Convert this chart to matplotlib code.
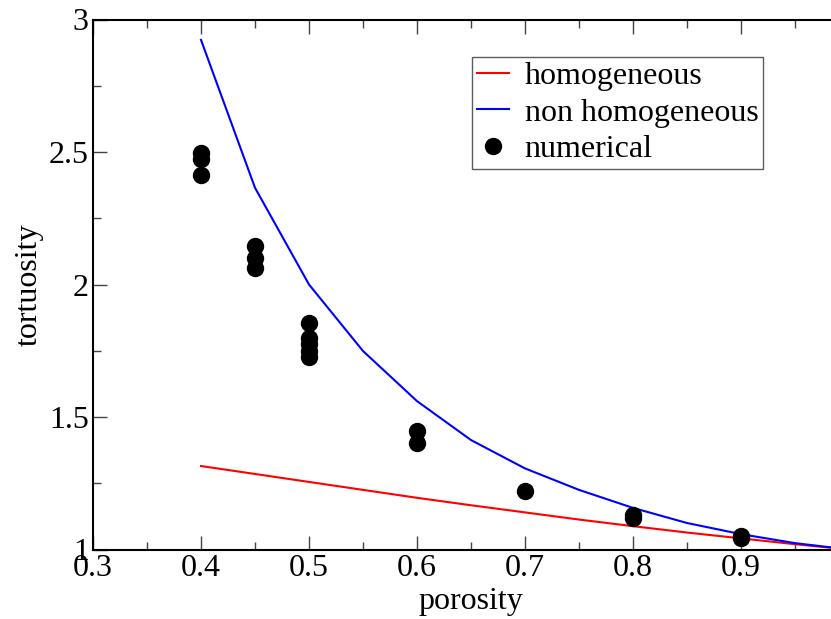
import matplotlib
matplotlib.use("Agg")
import matplotlib.pyplot as plt
from matplotlib.ticker import MultipleLocator

plt.rcParams['font.family'] = ['Liberation Serif', 'DejaVu Serif']

# model curves
phi_curve = [0.40, 0.45, 0.50, 0.55, 0.60, 0.65, 0.70, 0.75, 0.80, 0.85, 0.90, 0.95, 1.00]
tau_homog = [1.315, 1.285, 1.255, 1.225, 1.195, 1.167, 1.140, 1.113, 1.088, 1.064, 1.042, 1.020, 1.000]
tau_nonhomog = [2.923, 2.365, 2.000, 1.749, 1.560, 1.413, 1.306, 1.225, 1.157, 1.100, 1.058, 1.024, 1.000]

# numerical results
phi_num = [0.4, 0.4, 0.4,
           0.45, 0.45, 0.45,
           0.5, 0.5, 0.5, 0.5, 0.5,
           0.6, 0.6,
           0.7,
           0.8, 0.8,
           0.9, 0.9]
tau_num = [2.495, 2.475, 2.415,
           2.145, 2.100, 2.062,
           1.855, 1.800, 1.775, 1.750, 1.728,
           1.447, 1.402,
           1.222,
           1.130, 1.120,
           1.050, 1.045]

FS = 23

fig = plt.figure(figsize=(8.31, 6.19), dpi=100)
ax = fig.add_axes([93/831, (619-549.5)/619, (849-93)/831, (549.5-19.5)/619])

ax.plot(phi_curve, tau_homog, color='#ff0000', lw=1.5, label='homogeneous', zorder=2)
ax.plot(phi_curve, tau_nonhomog, color='#0000ff', lw=1.5, label='non homogeneous', zorder=2)
ax.plot(phi_num, tau_num, 'o', color='black', ms=11.5, label='numerical', zorder=3)

ax.set_xlim(0.3, 1.0)
ax.set_ylim(1.0, 3.0)
ax.xaxis.set_major_locator(MultipleLocator(0.1))
ax.xaxis.set_minor_locator(MultipleLocator(0.05))
ax.yaxis.set_major_locator(MultipleLocator(0.5))
ax.yaxis.set_minor_locator(MultipleLocator(0.25))
ax.xaxis.set_major_formatter(plt.FuncFormatter(lambda v, p: f"{v:.1f}" if v < 0.95 else ""))
ax.yaxis.set_major_formatter(plt.FuncFormatter(lambda v, p: f"{v:g}"))

ax.tick_params(which='both', direction='in', top=True, right=True,
               labelsize=FS, color='#444444', width=1)
ax.tick_params(which='major', length=10, pad=3)
ax.tick_params(which='minor', length=6)
for s in ax.spines.values():
    s.set_linewidth(1.5)

ax.set_xlabel('porosity', fontsize=FS, labelpad=3)
ax.set_ylabel('tortuosity', fontsize=FS, labelpad=4)

leg = ax.legend(loc='upper left', bbox_to_anchor=(472/831, (619-57)/619),
                bbox_transform=fig.transFigure, borderaxespad=0,
                fontsize=FS, frameon=True, fancybox=False, edgecolor='#333333',
                numpoints=1, handlelength=1.0, handletextpad=0.5,
                labelspacing=0.22, borderpad=0.15)
leg.get_frame().set_linewidth(1.0)

fig.savefig('out.png', dpi=100)
